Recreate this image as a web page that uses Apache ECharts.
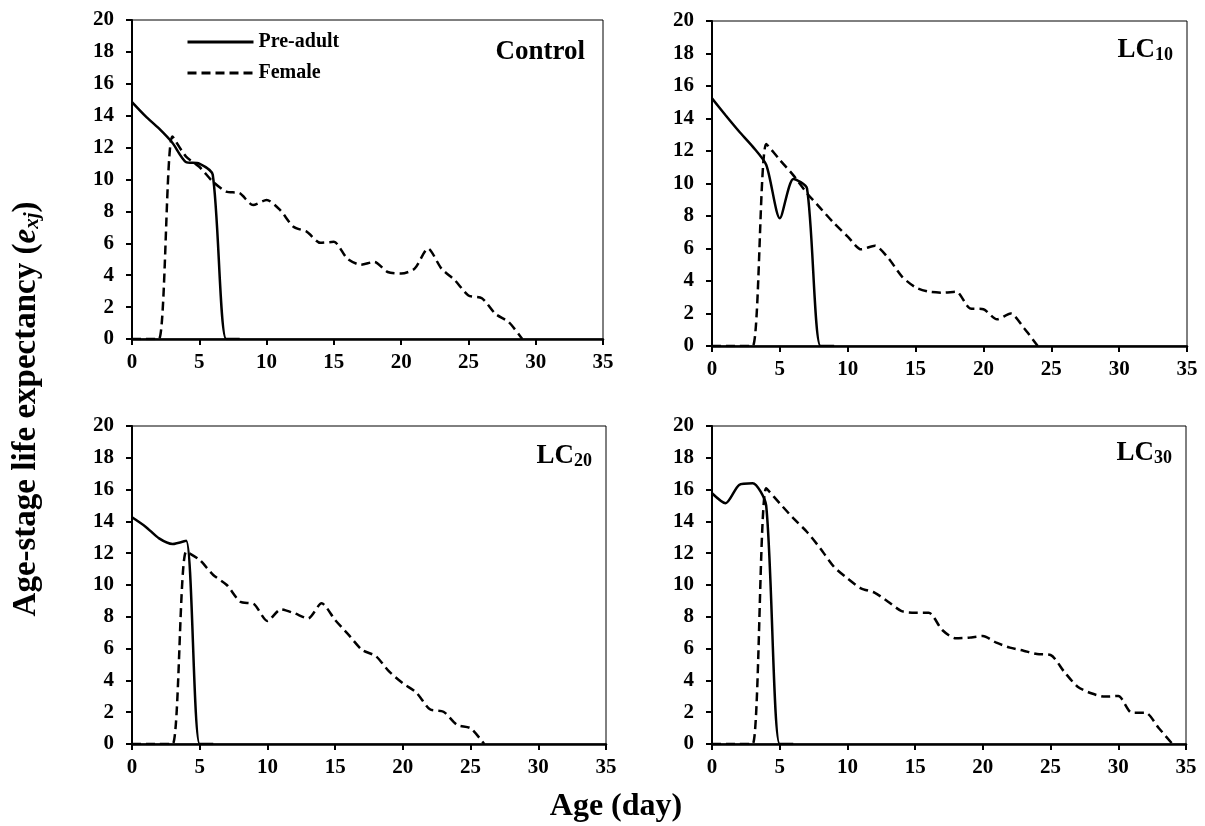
<!DOCTYPE html>
<html>
<head>
<meta charset="utf-8">
<script src="https://cdn.jsdelivr.net/npm/echarts@6/dist/echarts.min.js"></script>
<style>html,body{margin:0;padding:0;background:#fff}#c{width:1205px;height:826px}</style>
</head>
<body>
<div id="c"></div>
<script>
// ---- data ----
var panelNames = ['Control', 'LC10', 'LC20', 'LC30'];
var seriesNames = ['Pre-adult', 'Female'];
var xTicks = [0, 5, 10, 15, 20, 25, 30, 35];
var yTicks = [0, 2, 4, 6, 8, 10, 12, 14, 16, 18, 20];

// Control
var controlPreAdult = [14.85, 13.97, 13.2, 12.3, 11.1, 11.0, 10.3, 0, 0];
var controlFemale = [0, 0, 0, 12.7, 11.45, 10.8, 9.87, 9.24, 9.14, 8.4, 8.72, 8.09, 7.04, 6.72, 6.03, 6.09, 5.04, 4.66, 4.83, 4.2, 4.1, 4.41, 5.67, 4.41, 3.68, 2.73, 2.56, 1.58, 1.05, 0];
// LC10
var lc10PreAdult = [15.24, 14.2, 13.2, 12.27, 11.14, 7.86, 10.28, 9.7, 0, 0];
var lc10Female = [0, 0, 0, 0, 12.43, 11.45, 10.5, 9.4, 8.47, 7.55, 6.73, 5.95, 6.17, 5.4, 4.27, 3.61, 3.34, 3.28, 3.34, 2.32, 2.26, 1.64, 2.0, 1.09, 0];
// LC20
var lc20PreAdult = [14.26, 13.67, 12.93, 12.58, 12.79, 0, 0];
var lc20Female = [0, 0, 0, 0, 12.1, 11.57, 10.63, 10.0, 8.95, 8.8, 7.74, 8.47, 8.22, 7.9, 8.85, 7.8, 6.86, 5.91, 5.53, 4.55, 3.82, 3.23, 2.18, 2.03, 1.2, 0.99, 0];
// LC30
var lc30PreAdult = [15.77, 15.14, 16.29, 16.4, 15.0, 0, 0];
var lc30Female = [0, 0, 0, 0, 16.08, 15.14, 14.2, 13.35, 12.3, 11.15, 10.42, 9.79, 9.52, 8.95, 8.36, 8.26, 8.26, 7.17, 6.65, 6.69, 6.79, 6.37, 6.06, 5.87, 5.66, 5.6, 4.55, 3.6, 3.19, 2.98, 3.02, 1.97, 1.97, 0.99, 0];

var panelData = [
  [controlPreAdult, controlFemale],
  [lc10PreAdult, lc10Female],
  [lc20PreAdult, lc20Female],
  [lc30PreAdult, lc30Female]
];

// ---- layout ----
var FONT = '"Liberation Serif", "Times New Roman", serif';
var grids = [
  {left: 132, top: 20, width: 471, height: 319},
  {left: 712, top: 21, width: 475, height: 325},
  {left: 132, top: 426, width: 474, height: 318},
  {left: 712, top: 426, width: 474, height: 318}
];
var titlePos = [
  {right: 615, top: 34},
  {right: 27, top: 31},
  {right: 608, top: 437},
  {right: 28, top: 434}
];

function toPairs(arr) { return arr.map(function (v, i) { return [i, v]; }); }

var option = {
  backgroundColor: '#fff',
  animation: false,
  grid: grids.map(function (g) {
    return Object.assign({show: true, borderColor: '#000', borderWidth: 1, backgroundColor: 'transparent'}, g);
  }),
  title: panelNames.map(function (n, i) {
    var m = n.match(/^LC(\d+)$/);
    var txt = m ? '{a|LC}{b|' + m[1] + '}' : '{a|' + n + '}';
    return Object.assign({
      text: txt,
      textStyle: {
        rich: {
          a: {fontFamily: FONT, fontWeight: 'bold', fontSize: 27, color: '#000'},
          b: {fontFamily: FONT, fontWeight: 'bold', fontSize: 18, color: '#000', verticalAlign: 'bottom', padding: [10, 0, 0, 0]}
        }
      }
    }, titlePos[i]);
  }),
  legend: {
    data: seriesNames,
    orient: 'vertical',
    left: 181,
    top: 27,
    itemWidth: 66,
    itemHeight: 14,
    itemGap: 11,
    itemStyle: {color: 'rgba(0,0,0,0)', borderColor: 'rgba(0,0,0,0)', borderWidth: 0, opacity: 0},
    lineStyle: {width: 3},
    textStyle: {fontFamily: FONT, fontWeight: 'bold', fontSize: 20, color: '#000'}
  },
  xAxis: grids.map(function (g, i) {
    return {
      type: 'value', gridIndex: i, min: 0, max: 35, interval: 5,
      axisLine: {show: true, onZero: false, lineStyle: {color: '#000', width: 2.5}},
      axisTick: {show: true, inside: false, length: 6, lineStyle: {color: '#000', width: 2}},
      axisLabel: {fontFamily: FONT, fontWeight: 'bold', fontSize: 21, color: '#000', margin: 13,
        formatter: function (v) { return xTicks.indexOf(v) >= 0 ? String(v) : ''; }},
      splitLine: {show: false}
    };
  }),
  yAxis: grids.map(function (g, i) {
    return {
      type: 'value', gridIndex: i, min: 0, max: 20, interval: 2,
      axisLine: {show: true, onZero: false, lineStyle: {color: '#000', width: 2}},
      axisTick: {show: true, inside: false, length: 6, lineStyle: {color: '#000', width: 2}},
      axisLabel: {fontFamily: FONT, fontWeight: 'bold', fontSize: 21, color: '#000', margin: 18,
        formatter: function (v) { return yTicks.indexOf(v) >= 0 ? String(v) : ''; }},
      splitLine: {show: false}
    };
  }),
  series: [],
  graphic: [
    {
      type: 'text', x: 26, y: 409, rotation: Math.PI / 2,
      style: {
        text: 'Age-stage life expectancy ({i|e}{s|xj})',
        align: 'center', verticalAlign: 'middle',
        fontFamily: FONT, fontWeight: 'bold', fontSize: 33, fill: '#000',
        rich: {
          i: {fontFamily: FONT, fontWeight: 'bold', fontStyle: 'italic', fontSize: 33, fill: '#000'},
          s: {fontFamily: FONT, fontWeight: 'bold', fontStyle: 'italic', fontSize: 21, fill: '#000', verticalAlign: 'bottom', padding: [13, 0, 0, 0]}
        }
      }
    },
    {
      type: 'text', x: 616, y: 807,
      style: {text: 'Age (day)', align: 'center', verticalAlign: 'middle', fontFamily: FONT, fontWeight: 'bold', fontSize: 32, fill: '#000'}
    }
  ]
};

panelData.forEach(function (pair, i) {
  pair.forEach(function (arr, j) {
    option.series.push({
      name: seriesNames[j],
      type: 'line',
      xAxisIndex: i, yAxisIndex: i,
      data: toPairs(arr),
      smooth: 0.25,
      symbol: 'none',
      showSymbol: false,
      z: j === 0 ? 3 : 2,
      lineStyle: {color: '#000', width: 2.5, type: j === 0 ? 'solid' : [9, 5]},
      itemStyle: {color: '#000'}
    });
  });
});

var chart = echarts.init(document.getElementById('c'), null, {renderer: 'canvas'});
chart.setOption(option);
</script>
</body>
</html>
